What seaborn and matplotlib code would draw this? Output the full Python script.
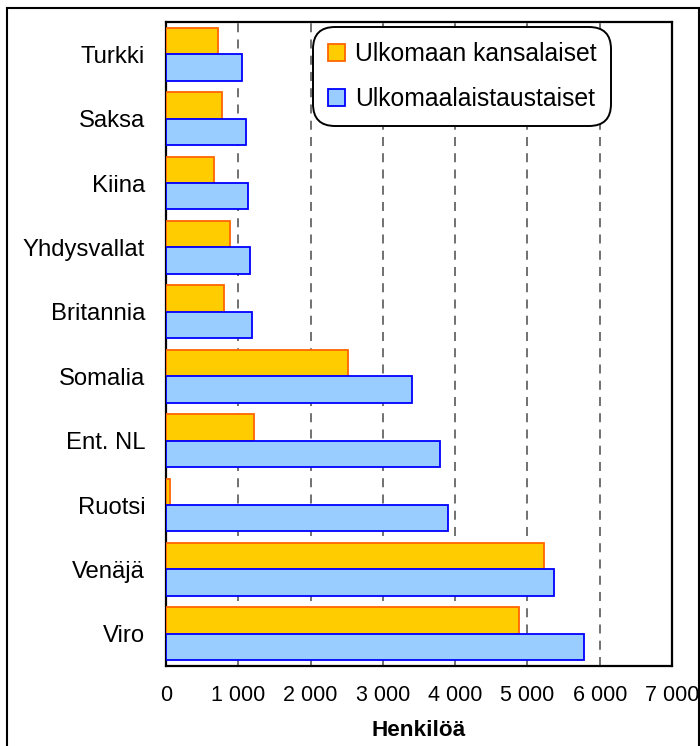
import pandas as pd
import numpy as np
import seaborn as sns
import matplotlib.pyplot as plt
from matplotlib.patches import Patch, Rectangle
from matplotlib.ticker import FuncFormatter, FixedLocator

countries = ["Turkki", "Saksa", "Kiina", "Yhdysvallat", "Britannia",
             "Somalia", "Ent. NL", "Ruotsi", "Venäjä", "Viro"]
kansalaiset = [724, 775, 668, 890, 807, 2522, 1222, 60, 5232, 4878]
taustaiset = [1051, 1107, 1139, 1162, 1190, 3402, 3790, 3900, 5371, 5786]
series = ["Ulkomaan kansalaiset", "Ulkomaalaistaustaiset"]
x_ticks = [0, 1000, 2000, 3000, 4000, 5000, 6000, 7000]

fills = ["#FFCC00", "#99CCFF"]
edges = ["#FF6600", "#0000FF"]

df = pd.DataFrame({"maa": countries * 2,
                   "sarja": [series[0]] * len(countries) + [series[1]] * len(countries),
                   "arvo": kansalaiset + taustaiset})

sns.set_style("white")
plt.rcParams['font.family'] = ['Liberation Sans', 'DejaVu Sans']
plt.rcParams['text.color'] = 'black'
plt.rcParams['axes.labelcolor'] = 'black'
plt.rcParams['xtick.labelcolor'] = 'black'
plt.rcParams['ytick.labelcolor'] = 'black'

fig = plt.figure(figsize=(7.0, 7.46), dpi=100)
ax = fig.add_axes([0.2371, 0.1072, 0.7229, 0.8633])

sns.barplot(data=df, x="arvo", y="maa", hue="sarja", hue_order=series,
            order=countries, palette=fills, orient="h", width=0.82,
            saturation=1, legend=False, ax=ax, zorder=3)

# edge colours per series
for cont, ec in zip(ax.containers, edges):
    for bar in cont:
        bar.set_edgecolor(ec)
        bar.set_linewidth(1.3)

ax.set_xlim(0, 7000)
ax.set_ylim(len(countries) - 0.5, -0.5)
ax.xaxis.set_major_locator(FixedLocator(x_ticks))
ax.xaxis.set_major_formatter(FuncFormatter(lambda v, p: f"{int(v):,}".replace(",", " ")))
ax.xaxis.grid(True, linestyle=(0, (5, 4)), color="#666666", linewidth=1.3, zorder=0)
ax.yaxis.grid(False)
ax.set_axisbelow(True)

ax.set_yticks(np.arange(len(countries) + 1) - 0.5, minor=True)
ax.tick_params(axis="y", which="major", length=0, pad=15, labelsize=17.2, labelcolor="black")
ax.tick_params(axis="y", which="minor", length=6, width=1.2, direction="out", color="black")
ax.tick_params(axis="x", which="major", length=6, width=1.2, direction="out",
               color="#555555", labelsize=15.5, pad=8, labelcolor="black")

ax.set_xlabel("Henkilöä", fontsize=16.2, fontweight="bold", labelpad=10, color="black")
ax.set_ylabel("")

for side in ["left", "right", "top", "bottom"]:
    ax.spines[side].set_visible(True)
    ax.spines[side].set_color("black")
    ax.spines[side].set_linewidth(1.6)

handles = [Patch(facecolor=f, edgecolor=e, linewidth=1.3) for f, e in zip(fills, edges)]
leg = ax.legend(handles, series, loc="upper left", bbox_to_anchor=(0.29, 0.992),
                fontsize=17.8, frameon=True, fancybox=True, framealpha=1,
                handlelength=0.7, handleheight=0.7, handletextpad=0.4,
                labelspacing=0.85, borderpad=0.6, borderaxespad=0,
                labelcolor="black")
leg.get_frame().set_edgecolor("black")
leg.get_frame().set_linewidth(1.4)
leg.get_frame().set_boxstyle("round,pad=0,rounding_size=0.9")
leg.set_zorder(5)

# outer chart border
fig.patches.append(Rectangle((7 / 700, -0.02), 692 / 700, 1.02 - 8 / 746,
                             transform=fig.transFigure, fill=False,
                             edgecolor="black", linewidth=1.5))

plt.savefig("out.png", dpi=100)
